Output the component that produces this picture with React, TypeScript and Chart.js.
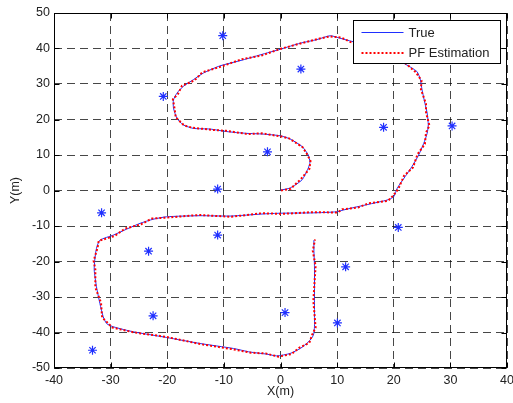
import React, { useEffect, useRef } from "react";
import { Chart, registerables } from "chart.js";

Chart.register(...registerables);

// True trajectory (m)
const trueX = [
  0.0, 1.7, 3.8, 4.9, 5.2, 4.9, 3.8, 1.7, 0.0, -3.1, -6.0, -9.5, -12.4, -15.4, -17.2, -18.3, -18.9, -18.9, -18.3, -17.2,
  -15.4, -13.6, -10.7, -6.6, -3.6, 0.0, 3.5, 6.4, 8.8, 10.5, 12.6, 15.5, 18.5, 21.7, 24.1, 24.7, 25.0, 25.5, 25.9, 26.1,
  25.9, 25.3, 24.4, 23.2, 22.0, 20.6, 20.0, 18.8, 15.8, 13.5, 11.1, 9.9, 5.8, 0.0, -3.0, -8.9, -14.2, -20.1, -22.5, -24.8,
  -27.2, -29.5, -31.9, -32.5, -32.8, -32.9, -32.5, -31.9, -31.3, -30.7, -29.5, -26.0, -20.1, -14.2, -8.3, -5.4, -2.4, -0.65, 1.7, 3.5,
  4.9, 5.8, 6.0, 6.0, 6.0, 5.9, 5.9,
];
const trueY = [
  0.1, 0.7, 3.0, 6.3, 8.0, 10.0, 12.4, 14.5, 15.4, 15.9, 16.1, 16.6, 17.3, 17.5, 18.5, 20.4, 23.2, 25.5, 27.4, 29.3,
  31.2, 33.1, 35.1, 36.8, 38.2, 39.8, 41.5, 42.5, 43.6, 42.9, 42.0, 40.6, 38.6, 35.9, 33.5, 31.2, 28.3, 24.6, 21.8, 18.5,
  16.1, 13.3, 10.0, 6.7, 3.9, 0.6, -1.75, -2.7, -3.8, -4.6, -5.5, -6.0, -6.3, -6.4, -6.6, -7.2, -7.1, -7.4, -8.1, -9.25,
  -10.9, -12.55, -14.0, -16.3, -19.6, -22.4, -27.1, -31.8, -35.6, -37.5, -38.4, -39.8, -41.4, -43.1, -44.5, -45.5, -46.1, -46.6, -45.9, -44.5,
  -42.7, -40.8, -38.4, -30.9, -21.5, -16.8, -14.0,
];

// Particle filter estimate (m)
const pfX = [
  0.1, 1.8, 3.6, 5.1, 5.3, 4.7, 3.9, 1.5, 0.2, -3.3, -5.8, -9.6, -12.2, -15.6, -17.0, -18.5, -18.7, -19.0, -18.1, -17.4,
  -15.2, -13.8, -10.5, -6.8, -3.4, 0.2, 3.3, 6.6, 8.7, 10.7, 12.4, 15.7, 18.3, 21.9, 23.9, 24.9, 24.8, 25.7, 25.7, 26.3,
  25.7, 25.5, 24.2, 23.4, 21.8, 20.8, 19.8, 19.0, 15.6, 13.7, 10.9, 10.1, 5.6, 0.2, -3.2, -8.7, -14.4, -19.9, -22.7, -24.6,
  -27.4, -29.3, -32.1, -32.3, -33.0, -32.7, -32.7, -31.7, -31.5, -30.5, -29.7, -25.8, -20.3, -14.0, -8.5, -5.2, -2.6, -0.4, 1.9, 3.3,
  5.1, 5.6, 6.2, 5.8, 6.2, 5.7, 6.1,
];
const pfY = [
  0.0, 0.5, 3.2, 6.1, 8.3, 10.2, 12.2, 14.7, 15.2, 16.1, 15.9, 16.8, 17.1, 17.7, 18.3, 20.6, 23.0, 25.7, 27.2, 29.5,
  31.0, 33.3, 34.9, 37.0, 38.0, 40.0, 41.3, 42.7, 43.4, 43.1, 41.8, 40.8, 38.4, 36.1, 33.3, 31.0, 28.5, 24.4, 22.0, 18.3,
  16.3, 13.1, 10.2, 6.5, 4.1, 0.4, -1.6, -2.9, -3.6, -4.8, -5.3, -6.2, -6.1, -6.6, -6.4, -7.4, -6.9, -7.6, -7.9, -9.5,
  -10.7, -12.8, -14.2, -16.1, -19.8, -22.2, -27.3, -31.6, -35.8, -37.3, -38.6, -40.0, -41.2, -43.3, -44.7, -45.7, -45.9, -46.8, -46.1, -44.3,
  -42.9, -40.6, -38.6, -31.1, -21.3, -17.0, -13.8,
];

// Landmarks (m)
const landmarkX = [-10.2, -20.7, -11.1, 3.6, -2.3, 18.2, 30.3, -31.6, -23.3, -11.1, -22.5, -33.2, 20.8, 11.5, 0.8, 10.05];
const landmarkY = [43.6, 26.5, 0.4, 34.2, 10.9, 17.8, 18.2, -6.3, -17.1, -12.55, -35.3, -45.0, -10.4, -21.5, -34.4, -37.3];

const xTicks = [-40, -30, -20, -10, 0, 10, 20, 30, 40];
const yTicks = [-50, -40, -30, -20, -10, 0, 10, 20, 30, 40, 50];
const seriesLabels = ["True", "PF Estimation"];
const axisTitles = ["X(m)", "Y(m)"];

const FONT = "'Liberation Sans', Arial, Helvetica, sans-serif";
const TEXT = "#222222";
const BLUE = "#1f2fff";
const RED = "#ff0000";

const framePlugin = {
  id: "matlabFrame",
  afterDraw(chart: any) {
    const { ctx, chartArea: a, scales } = chart;
    const L = Math.round(a.left) + 0.5;
    const R = Math.round(a.right) - 0.5;
    const T = Math.round(a.top) + 0.5;
    const B = Math.round(a.bottom) - 0.5;
    ctx.save();
    ctx.setLineDash([]);
    ctx.strokeStyle = "#000";
    ctx.lineWidth = 1;
    ctx.strokeRect(L, T, R - L, B - T);
    const tl = 5;
    ctx.beginPath();
    for (const v of xTicks) {
      const p = Math.round(scales.x.getPixelForValue(v)) + 0.5;
      ctx.moveTo(p, B);
      ctx.lineTo(p, B - tl);
      ctx.moveTo(p, T);
      ctx.lineTo(p, T + tl);
    }
    for (const v of yTicks) {
      const p = Math.round(scales.y.getPixelForValue(v)) + 0.5;
      ctx.moveTo(L, p);
      ctx.lineTo(L + tl, p);
      ctx.moveTo(R, p);
      ctx.lineTo(R - tl, p);
    }
    ctx.stroke();

    // legend box
    const lw = 147;
    const lh = 43;
    const lx = Math.round(a.right - 154) + 0.5;
    const ly = Math.round(a.top + 6.5) + 0.5;
    ctx.fillStyle = "#fff";
    ctx.fillRect(lx, ly, lw, lh);
    ctx.strokeStyle = "#000";
    ctx.lineWidth = 1;
    ctx.strokeRect(lx, ly, lw, lh);

    // True row
    ctx.beginPath();
    ctx.setLineDash([]);
    ctx.strokeStyle = BLUE;
    ctx.lineWidth = 1.2;
    ctx.moveTo(lx + 8, ly + 12);
    ctx.lineTo(lx + 50, ly + 12);
    ctx.stroke();
    // PF row
    ctx.beginPath();
    ctx.setLineDash([2, 2]);
    ctx.strokeStyle = RED;
    ctx.lineWidth = 2;
    ctx.moveTo(lx + 8, ly + 32.5);
    ctx.lineTo(lx + 50, ly + 32.5);
    ctx.stroke();
    ctx.setLineDash([]);

    ctx.fillStyle = TEXT;
    ctx.font = `13px ${FONT}`;
    ctx.textAlign = "left";
    ctx.textBaseline = "middle";
    ctx.fillText(seriesLabels[0], lx + 55, ly + 12.5);
    ctx.fillText(seriesLabels[1], lx + 55, ly + 32.5);
    ctx.restore();
  },
};

export default function App() {
  const ref = useRef<HTMLCanvasElement | null>(null);
  useEffect(() => {
    if (!ref.current) return;
    const truePts = trueX.map((x, i) => ({ x, y: trueY[i] }));
    const pfPts = pfX.map((x, i) => ({ x, y: pfY[i] }));
    const lmPts = landmarkX.map((x, i) => ({ x, y: landmarkY[i] }));
    const chart = new Chart(ref.current, {
      type: "scatter",
      data: {
        datasets: [
          {
            label: "Landmarks",
            data: lmPts,
            showLine: false,
            pointStyle: "star",
            pointRadius: 4.5,
            pointBorderWidth: 1.2,
            pointBorderColor: BLUE,
            pointBackgroundColor: BLUE,
            order: 0,
          },
          {
            label: seriesLabels[1],
            data: pfPts,
            showLine: true,
            borderColor: RED,
            borderWidth: 2,
            borderDash: [2, 2],
            pointRadius: 0,
            tension: 0,
            order: 1,
          },
          {
            label: seriesLabels[0],
            data: truePts,
            showLine: true,
            borderColor: BLUE,
            borderWidth: 1,
            pointRadius: 0,
            tension: 0.2,
            order: 2,
          },
        ],
      },
      options: {
        responsive: false,
        animation: false,
        devicePixelRatio: 1,
        layout: { padding: { left: 0, right: 6, top: 13, bottom: 0 } },
        plugins: { legend: { display: false }, tooltip: { enabled: false }, title: { display: false } },
        scales: {
          x: {
            type: "linear",
            min: -40,
            max: 40,
            afterBuildTicks: (s: any) => {
              s.ticks = xTicks.map((v) => ({ value: v }));
            },
            afterFit: (s: any) => {
              s.height = 35;
              s.paddingLeft = 0;
              s.paddingRight = 0;
            },
            ticks: {
              color: TEXT,
              font: { family: FONT, size: 12.5 },
              padding: 5,
              maxRotation: 0,
              autoSkip: false,
              callback: (v: any) => String(v),
            },
            grid: { color: "rgba(0,0,0,0.72)", lineWidth: 1, drawTicks: false },
            border: { display: false, dash: [8, 5] },
            title: {
              display: true,
              text: axisTitles[0],
              color: TEXT,
              font: { family: FONT, size: 12.5 },
              padding: { top: 0, bottom: 4 },
            },
          },
          y: {
            type: "linear",
            min: -50,
            max: 50,
            afterBuildTicks: (s: any) => {
              s.ticks = yTicks.map((v) => ({ value: v }));
            },
            afterFit: (s: any) => {
              s.width = 54;
              s.paddingTop = 0;
              s.paddingBottom = 0;
            },
            ticks: {
              color: TEXT,
              font: { family: FONT, size: 12.5 },
              padding: 4,
              autoSkip: false,
              callback: (v: any) => String(v),
            },
            grid: { color: "rgba(0,0,0,0.72)", lineWidth: 1, drawTicks: false },
            border: { display: false, dash: [8, 5] },
            title: {
              display: true,
              text: axisTitles[1],
              color: TEXT,
              font: { family: FONT, size: 12.5 },
              padding: { top: 8, bottom: 0 },
            },
          },
        },
      },
      plugins: [framePlugin],
    } as any);
    return () => chart.destroy();
  }, []);
  return (
    <div style={{ position: "fixed", left: 0, top: 0, width: 513, height: 403, background: "#fff" }}>
      <canvas ref={ref} width={513} height={403} style={{ display: "block" }} />
    </div>
  );
}
